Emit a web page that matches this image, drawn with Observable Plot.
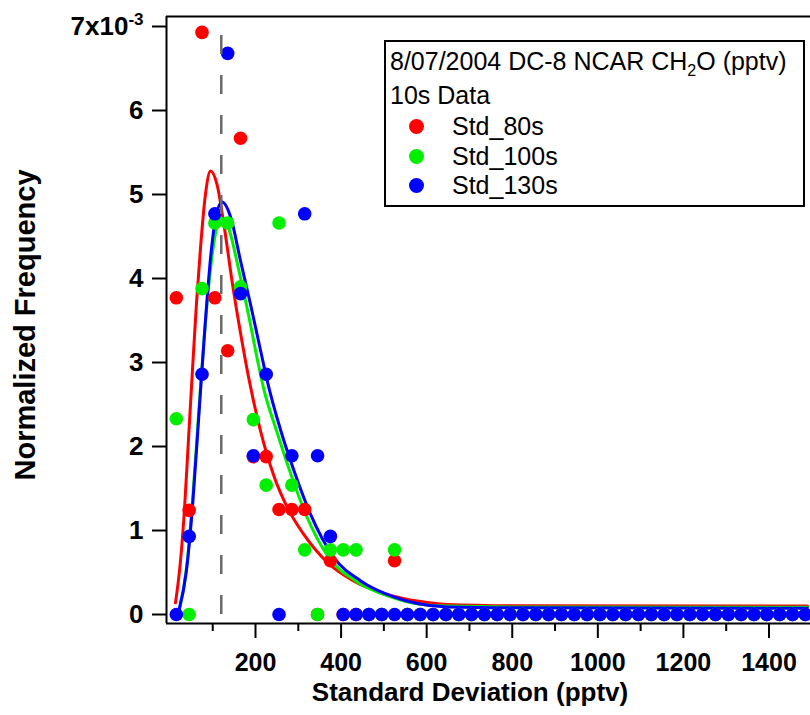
<!DOCTYPE html>
<html><head><meta charset="utf-8">
<script src="https://cdn.jsdelivr.net/npm/d3@7"></script>
<script src="https://cdn.jsdelivr.net/npm/@observablehq/plot@0.6"></script>
<style>
body{margin:0;background:#fff;}
#wrap{position:relative;width:810px;height:715px;font-family:"Liberation Sans",Arial,Helvetica,sans-serif;overflow:hidden;}
#legend{position:absolute;left:384px;top:40px;width:421px;height:167px;border:2px solid #000;background:#fff;box-sizing:border-box;font-size:25px;color:#000;}
#legend .ln{position:absolute;white-space:nowrap;line-height:1;}
#legend .sw{position:absolute;width:15px;height:15px;border-radius:50%;}
#legend sub{font-size:16px;vertical-align:-6px;line-height:0;}
</style></head>
<body><div id="wrap"></div>
<script>
// bin centers (pptv)
const binCenters = [15,45,75,105,135,165,195,225,255,285,315,345,375,405,435,465,495,525,555,585,
  615,645,675,705,735,765,795,825,855,885,915,945,975,1005,1035,1065,1095,1125,1155,1185,
  1215,1245,1275,1305,1335,1365,1395,1425,1455,1485];
// normalized frequency, units of 1e-3
const std80 = [3.77,1.24,6.93,3.77,3.14,5.67,1.88,1.88,1.25,1.25,1.25,0,0.64,0,0,0,0,0.64,0,0,
  0,0,0,0,0,0,0,0,0,0,0,0,0,0,0,0,0,0,0,0,0,0,0,0,0,0,0,0,0,0];
const std100 = [2.33,0,3.88,4.66,4.66,3.90,2.32,1.54,4.66,1.54,0.77,0,0.77,0.77,0.77,0,0,0.77,0,0,
  0,0,0,0,0,0,0,0,0,0,0,0,0,0,0,0,0,0,0,0,0,0,0,0,0,0,0,0,0,0];
const std130 = [0,0.93,2.86,4.77,6.68,3.82,1.89,2.86,0,1.89,4.77,1.89,0.93,0,0,0,0,0,0,0,
  0,0,0,0,0,0,0,0,0,0,0,0,0,0,0,0,0,0,0,0,0,0,0,0,0,0,0,0,0,0];

// fitted curves
const fit80X = [13,24,34,43,52,62,72,83,95,110,126,146,165,184,212,243,278,312,368,429,508,578,648,800,1490];
const fit80Y = [0.14,0.60,1.25,2.05,2.85,3.70,4.40,5.00,5.28,5.12,4.65,3.94,3.35,2.82,2.18,1.65,1.24,0.96,0.62,0.40,0.24,0.16,0.12,0.105,0.10];
const fit100X = [22,40,55,70,85,98,109,118,137,161,184,205,220,249,280,317,371,434,516,574,648,800,1490];
const fit100Y = [0.05,0.60,1.50,2.60,3.60,4.25,4.60,4.72,4.60,4.10,3.56,3.02,2.67,2.19,1.71,1.20,0.68,0.40,0.21,0.13,0.10,0.09,0.085];
const fit130X = [21,38,53,68,83,96,108,122,142,165,188,212,227,259,290,328,383,446,523,578,648,800,1490];
const fit130Y = [0.05,0.50,1.30,2.40,3.50,4.30,4.75,4.91,4.73,4.21,3.70,3.14,2.79,2.19,1.71,1.20,0.68,0.40,0.21,0.13,0.09,0.08,0.075];

const markerX = [120];      // dashed reference line (pptv)
const markerTop = 6.96;

const xDomain = [-8, 1497];
const yDomain = [-0.107, 7.119];
const xMajor = [200,400,600,800,1000,1200,1400];
const xMinor = [100,300,500,700,900,1100,1300];
const yTicks = [0,1,2,3,4,5,6,7];

const seriesNames = ["Std_80s","Std_100s","Std_130s"];
const colors = ["#ff0000","#00ee00","#0000ff"];
const seriesVals = [std80, std100, std130];
const fitsX = [fit80X, fit100X, fit130X];
const fitsY = [fit80Y, fit100Y, fit130Y];

const pts = seriesVals.map(vals => binCenters.map((x,i) => ({x, y: vals[i]})));
const fits = fitsX.map((xs,k) => xs.map((x,i) => ({x, y: fitsY[k][i]})));

const svg = Plot.plot({
  width: 810, height: 715,
  marginLeft: 166, marginRight: 0, marginTop: 16, marginBottom: 92,
  x: {domain: xDomain},
  y: {domain: yDomain},
  style: {fontFamily: "'Liberation Sans', Arial, Helvetica, sans-serif", background: "#fff", color: "#000", overflow: "hidden"},
  marks: [
    ...fits.map((f,k) => Plot.line(f, {x:"x", y:"y", stroke: colors[k], strokeWidth: 3, curve: "monotone-x"})),
    ...pts.map((p,k) => Plot.dot(p, {x:"x", y:"y", fill: colors[k], r: 6.8})),
    Plot.ruleX(markerX, {y1: 0, y2: markerTop, stroke: "#6a6a6a", strokeWidth: 2.5, strokeDasharray: "19,21"}),
    Plot.ruleX([xDomain[0]], {stroke: "#000", strokeWidth: 2}),
    Plot.ruleY([yDomain[0], yDomain[1]], {stroke: "#000", strokeWidth: 2}),
    Plot.axisY({ticks: yTicks, tickSize: 14, tickPadding: 9, tickFormat: d => d === 7 ? "7x10" : String(d),
      fontSize: 26, fontWeight: "bold", label: null, strokeWidth: 2}),
    Plot.axisX({ticks: xMajor, tickSize: 15, tickPadding: 15, tickFormat: d => String(d),
      fontSize: 25, fontWeight: "bold", label: null, strokeWidth: 2}),
    Plot.axisX({ticks: xMinor, tickSize: 8, tickFormat: () => "", label: null, strokeWidth: 2})
  ]
});
document.getElementById("wrap").appendChild(svg);

const s = d3.select(svg);
// superscript exponent on the top tick
s.selectAll("text").filter(function(){ return this.textContent === "7x10"; })
  .append("tspan").attr("dy", "-0.55em").attr("font-size", "17px").text("-3");

// axis titles
s.append("text").attr("x", 470).attr("y", 701).attr("text-anchor", "middle")
  .attr("font-size", 26).attr("font-weight", "bold").attr("fill", "#000")
  .text("Standard Deviation (pptv)");
s.append("text").attr("transform", "translate(35,325) rotate(-90)").attr("text-anchor", "middle")
  .attr("font-size", 29).attr("font-weight", "bold").attr("fill", "#000")
  .text("Normalized Frequency");

// legend
const leg = d3.select("#wrap").append("div").attr("id", "legend");
leg.append("div").attr("class","ln").style("left","4px").style("top","7px")
  .html("8/07/2004 DC-8 NCAR CH<sub>2</sub>O (pptv)");
leg.append("div").attr("class","ln").style("left","4px").style("top","41px").text("10s Data");
seriesNames.forEach((n,k) => {
  const top = 72 + k*29.7;
  leg.append("div").attr("class","sw").style("left","23px").style("top",(top+5)+"px").style("background", colors[k]);
  leg.append("div").attr("class","ln").style("left","66px").style("top",top+"px").text(n);
});
</script>
</body></html>
